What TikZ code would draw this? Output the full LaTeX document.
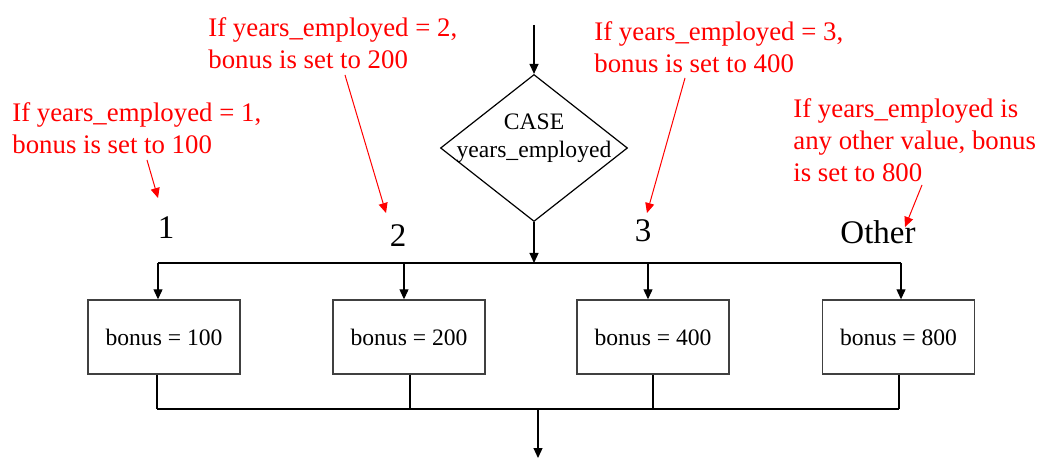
\documentclass[tikz,border=0pt]{standalone}
\usepackage{fontspec}
\setmainfont{Liberation Serif}
\usetikzlibrary{arrows.meta,positioning,shapes.geometric}

\begin{document}
\begin{tikzpicture}[
    x=0.5pt, y=-0.5pt,
    box/.style={rectangle, draw=black!75, line width=0.7pt, minimum height=37pt, minimum width=76pt, font=\fontsize{11.8}{14}\selectfont},
    dec/.style={diamond, draw, line width=0.6pt, minimum width=93.5pt, minimum height=73.5pt, inner sep=0pt},
    arr/.style={-{Triangle[length=5pt, width=4.5pt]}, line width=0.6pt},
    bus/.style={line width=1.2pt},
    note/.style={text=red, align=left, font=\fontsize{13.4}{16}\selectfont, inner sep=0pt, anchor=north west},
    narr/.style={-{Triangle[length=5pt, width=4.5pt]}, red, line width=0.5pt},
    val/.style={font=\fontsize{16.5}{18}\selectfont, inner sep=0pt}
  ]
    \useasboundingbox (0,0) rectangle (1042,459);

    % decision
    \coordinate (in) at (534,25);
    \node[dec, label={[font=\fontsize{11.8}{14}\selectfont, align=center, yshift=5pt]center:CASE\\years\_employed}] (case) at (534,148) {};
    \coordinate (jt) at (534,263);
    \draw[arr] (in) -- (case.north);
    \draw[arr] (case.south) -- (jt);

    % branches
    \node[box] (b1) at (164,337) {bonus = 100};
    \node[box] (b2) at (409,337) {bonus = 200};
    \node[box] (b3) at (653,337) {bonus = 400};
    \node[box] (b4) at (898.5,337) {bonus = 800};

    \coordinate (t1) at (158,263);
    \coordinate (t2) at (404,263);
    \coordinate (t3) at (648,263);
    \coordinate (t4) at (901,263);
    \draw[bus] (t1) -- (t4);
    \foreach \i in {1,...,4}
      \draw[arr] (t\i) -- (b\i.north -| t\i);

    \coordinate (u1) at (157,409);
    \coordinate (u2) at (410,409);
    \coordinate (u3) at (653,409);
    \coordinate (u4) at (899,409);
    \coordinate (out) at (538,458);
    \foreach \i in {1,...,4}
      \draw[bus] (b\i.south -| u\i) -- (u\i);
    \draw[bus] (u1) -- (u4);
    \draw[arr] (u1 -| out) -- (out);

    % case values
    \node[val] (v1) at (166,228) {1};
    \node[val] (v2) at (398,236) {2};
    \node[val] (v3) at (643,231) {3};
    \node[val] (v4) at (878,232) {Other};

    % notes
    \node[note] (n1) at (12,102) {If years\_employed = 1,\\bonus is set to 100};
    \node[note] (n2) at (208,17) {If years\_employed = 2,\\bonus is set to 200};
    \node[note] (n3) at (594,21) {If years\_employed = 3,\\bonus is set to 400};
    \node[note] (n4) at (793,98) {If years\_employed is\\any other value, bonus\\is set to 800};

    \coordinate (n1a) at (147,160);
    \coordinate (n1b) at (158,198);
    \coordinate (n2a) at (345,75);
    \coordinate (n2b) at (386,213);
    \coordinate (n3a) at (685,78);
    \coordinate (n3b) at (647,213);
    \coordinate (n4a) at (922,185);
    \coordinate (n4b) at (905,227);
    \foreach \i in {1,...,4}
      \draw[narr] (n\i a) -- (n\i b);
\end{tikzpicture}
\end{document}
